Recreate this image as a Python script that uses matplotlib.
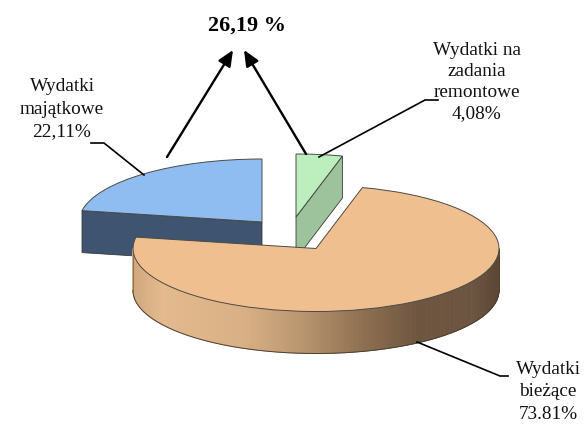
import numpy as np
import matplotlib
matplotlib.use("Agg")
import matplotlib.pyplot as plt
from matplotlib.transforms import Affine2D
from matplotlib.collections import PolyCollection
from matplotlib.colors import LinearSegmentedColormap

labels = ["Wydatki\nmajątkowe\n22,11%", "Wydatki\nbieżące\n73.81%", "Wydatki na\nzadania\nremontowe\n4,08%"]
values = [22.11, 73.81, 4.08]
total_label = "26,19 %"

top_colors = ["#8FBDF1", "#F0BF90", "#BDEEBD"]
side_colors = ["#3E5470", None, "#9CC39C"]
centers = [(262, 222), (316, 248.5), (296, 217)]
RX, RY, DEPTH = 183, 63, 42

plt.rcParams["font.family"] = ["Liberation Serif", "DejaVu Serif"]
fig = plt.figure(figsize=(5.87, 4.24), dpi=100)
ax = fig.add_axes([0, 0, 1, 1])
wedges, _ = ax.pie(values, startangle=90, counterclock=True, colors=top_colors,
                   wedgeprops=dict(edgecolor="#4a4a44", linewidth=0.7))
ax.set_aspect("auto")
ax.set_xlim(0, 587)
ax.set_ylim(424, 0)
ax.axis("off")

edges = 90 + np.cumsum([0] + values) * 3.6


def rim(i, deg):
    cx, cy = centers[i]
    t = np.radians(deg)
    return cx + RX * np.cos(t), cy - RY * np.sin(t)


# zorder: green, blue, then orange on top
orders = {2: 2, 0: 4, 1: 6}
for i, w in enumerate(wedges):
    cx, cy = centers[i]
    w.set_transform(Affine2D().scale(RX, -RY).translate(cx, cy) + ax.transData)
    w.set_zorder(orders[i] + 1)

# side faces of blue (left radial cut) and green (right radial cut)
for i, deg in ((0, edges[1]), (2, edges[2])):
    cx, cy = centers[i]
    x, y = rim(i, deg)
    ax.fill([cx, x, x, cx], [cy, y, y + DEPTH, cy + DEPTH],
            facecolor=side_colors[i], edgecolor="#3a3a36", linewidth=0.6, zorder=orders[i])

# outer wall of the large slice, shaded across its width
cmap = LinearSegmentedColormap.from_list("wall", [
    (0.00, "#D2A97F"), (0.08, "#E3B98D"), (0.30, "#D9B085"), (0.46, "#B8956F"),
    (0.62, "#8F7052"), (0.78, "#6E5540"), (0.93, "#6B5440"), (1.00, "#5C4735")])
deg = np.linspace(180, 360, 181)
x = centers[1][0] + RX * np.cos(np.radians(deg))
y = centers[1][1] - RY * np.sin(np.radians(deg))
polys = [[(x[k], y[k]), (x[k + 1], y[k + 1]), (x[k + 1], y[k + 1] + DEPTH), (x[k], y[k] + DEPTH)]
         for k in range(len(deg) - 1)]
shade = (x[:-1] - x.min()) / (x.max() - x.min())
wall = PolyCollection(polys, facecolors=cmap(shade), edgecolors=cmap(shade), linewidths=0.6, zorder=5)
ax.add_collection(wall)
ax.plot(x, y + DEPTH, color="#4a3f33", lw=0.7, zorder=6)
ax.plot([x[0], x[0]], [y[0], y[0] + DEPTH], color="#6b5a48", lw=0.5, zorder=6)
ax.plot([x[-1], x[-1]], [y[-1], y[-1] + DEPTH], color="#4a3f33", lw=0.5, zorder=6)

# leader lines
lc = dict(color="black", lw=1.2, zorder=9, solid_joinstyle="miter")
ax.plot([91, 104, 144], [143, 143, 175], **lc)
ax.plot([438, 425, 319], [100, 100, 157], **lc)
ax.plot([508, 500, 417], [376, 376, 342], **lc)

# arrows
for start, end in (((167, 157), (233, 50)), ((306, 154), (244, 50))):
    ax.annotate("", xy=end, xytext=start, zorder=9,
                arrowprops=dict(arrowstyle="-|>,head_length=0.95,head_width=0.42", color="black",
                                lw=1.7, shrinkA=0, shrinkB=0))

fs = 13.9
tc = "#111111"
ax.text(62, 109, labels[0], ha="center", va="center", fontsize=fs, linespacing=1.42, color=tc, zorder=10)
ax.text(548, 392, labels[1], ha="center", va="center", fontsize=fs, linespacing=1.42, color=tc, zorder=10, clip_on=False)
ax.text(477, 82, labels[2], ha="center", va="center", fontsize=fs, linespacing=1.3, color=tc, zorder=10)
ax.text(247, 26, total_label, ha="center", va="center", fontsize=16, fontweight="bold", color="black", zorder=10)

fig.savefig("out.png", dpi=100)
